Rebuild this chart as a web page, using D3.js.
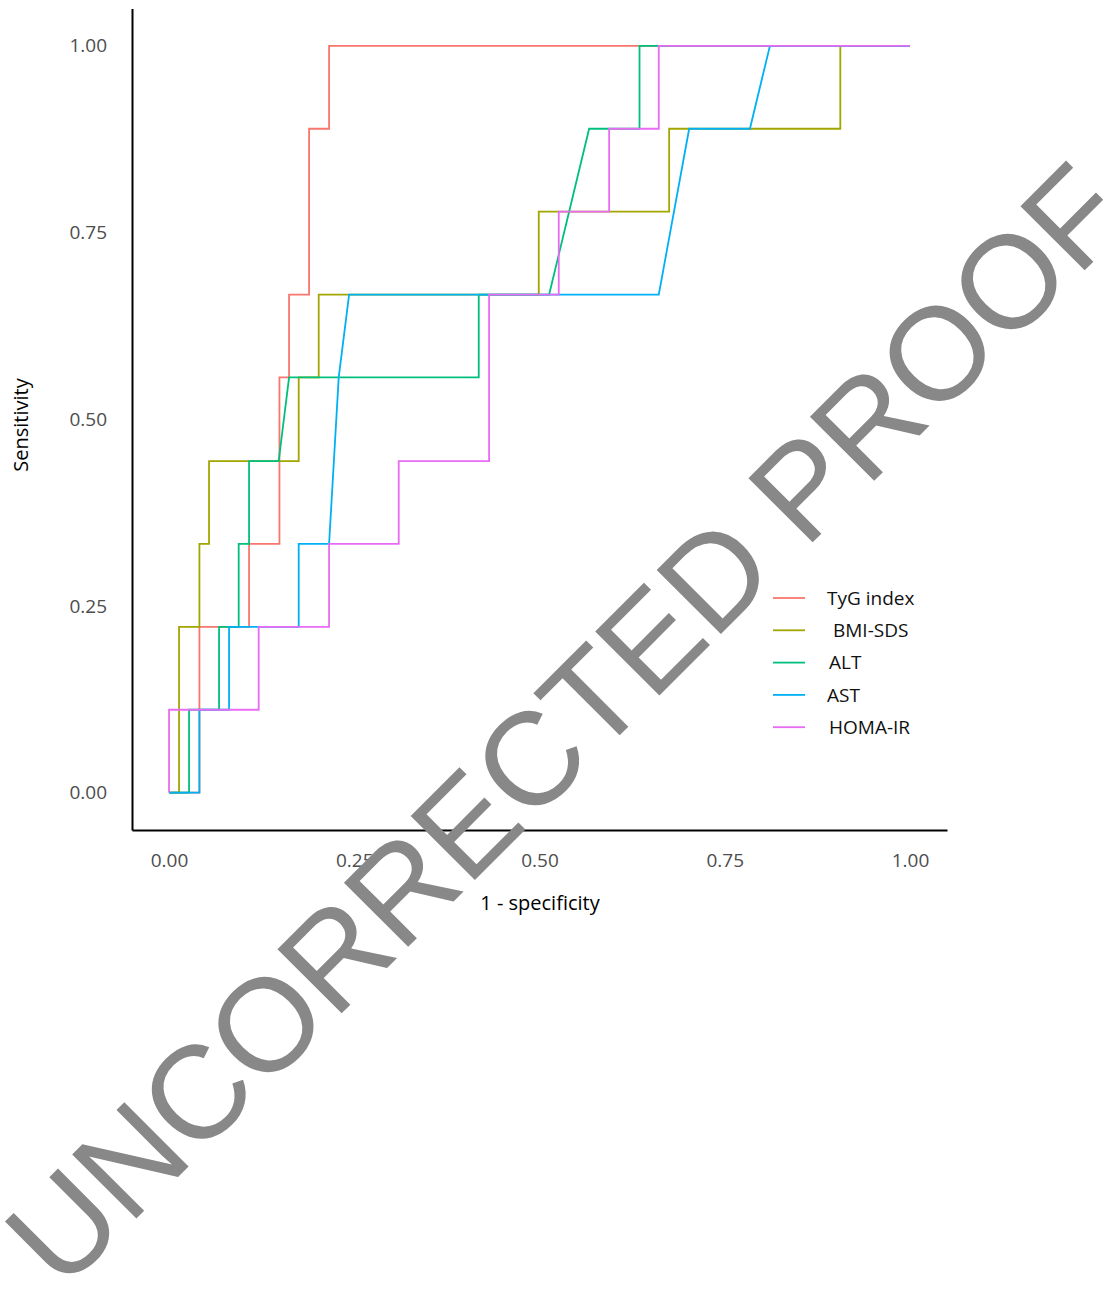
<!DOCTYPE html>
<html>
<head>
<meta charset="utf-8">
<script src="https://cdn.jsdelivr.net/npm/d3@7"></script>
<style>
  html, body { margin: 0; padding: 0; background: #fff; }
  svg { display: block; font-family: 'Open Sans', 'Liberation Sans', sans-serif; }
</style>
</head>
<body>
<svg id="chart" width="1107" height="1290"></svg>
<script>
// ROC curve data: 1 - specificity (fpr) and sensitivity (tpr)
const seriesNames = ['TyG index', 'BMI-SDS', 'ALT', 'AST', 'HOMA-IR'];
const seriesColors = ['#F8766D', '#A3A500', '#00BF7D', '#00B0F6', '#E76BF3'];

const tygFpr = [0, 0.041, 0.041, 0.108, 0.108, 0.149, 0.149, 0.162, 0.162, 0.189, 0.189, 0.216, 0.216, 1];
const tygTpr = [0, 0, 0.222, 0.222, 0.333, 0.333, 0.556, 0.556, 0.667, 0.667, 0.889, 0.889, 1, 1];

const bmiFpr = [0, 0.0135, 0.0135, 0.041, 0.041, 0.054, 0.054, 0.175, 0.175, 0.202, 0.202, 0.499, 0.499, 0.675, 0.675, 0.906, 0.906, 1];
const bmiTpr = [0, 0, 0.222, 0.222, 0.333, 0.333, 0.444, 0.444, 0.556, 0.556, 0.667, 0.667, 0.778, 0.778, 0.889, 0.889, 1, 1];

const altFpr = [0, 0.027, 0.027, 0.0675, 0.0675, 0.094, 0.094, 0.108, 0.108, 0.148, 0.162, 0.418, 0.418, 0.513, 0.567, 0.635, 0.635, 1];
const altTpr = [0, 0, 0.111, 0.111, 0.222, 0.222, 0.333, 0.333, 0.444, 0.444, 0.556, 0.556, 0.667, 0.667, 0.889, 0.889, 1, 1];

const astFpr = [0, 0.041, 0.041, 0.081, 0.081, 0.175, 0.175, 0.216, 0.229, 0.243, 0.661, 0.702, 0.784, 0.811, 1];
const astTpr = [0, 0, 0.111, 0.111, 0.222, 0.222, 0.333, 0.333, 0.556, 0.667, 0.667, 0.889, 0.889, 1, 1];

const homaFpr = [0, 0, 0.121, 0.121, 0.216, 0.216, 0.310, 0.310, 0.432, 0.432, 0.526, 0.526, 0.594, 0.594, 0.661, 0.661, 1];
const homaTpr = [0, 0.111, 0.111, 0.222, 0.222, 0.333, 0.333, 0.444, 0.444, 0.667, 0.667, 0.778, 0.778, 0.889, 0.889, 1, 1];

const tickValues = [0, 0.25, 0.5, 0.75, 1];
const watermarkText = 'UNCORRECTED PROOF';

const curves = [
  { fpr: tygFpr, tpr: tygTpr },
  { fpr: bmiFpr, tpr: bmiTpr },
  { fpr: altFpr, tpr: altTpr },
  { fpr: astFpr, tpr: astTpr },
  { fpr: homaFpr, tpr: homaTpr },
].map((c, i) => ({
  name: seriesNames[i],
  color: seriesColors[i],
  points: c.fpr.map((f, j) => [f, c.tpr[j]]),
}));

const svg = d3.select('#chart');

// Panel spans the data range with a 5% expansion on each side
const x = d3.scaleLinear().domain([-0.05, 1.05]).range([132, 947]);
const y = d3.scaleLinear().domain([-0.05, 1.05]).range([830, 8.5]);

// Axes
const xAxis = svg
  .append('g')
  .attr('transform', `translate(0,${y(-0.05)})`)
  .call(d3.axisBottom(x).tickValues(tickValues).tickFormat(d3.format('.2f')).tickSize(0).tickPadding(24));

const yAxis = svg
  .append('g')
  .attr('transform', `translate(${x(-0.05)},0)`)
  .call(d3.axisLeft(y).tickValues(tickValues).tickFormat(d3.format('.2f')).tickSize(0).tickPadding(25));

[xAxis, yAxis].forEach((a) => {
  a.select('.domain').attr('stroke', '#000').attr('stroke-width', 2);
  a.selectAll('text')
    .attr('fill', '#4D4D4D')
    .style('font-size', '19px')
    .style('font-family', "'Open Sans', sans-serif");
});

// Axis titles
svg
  .append('text')
  .attr('x', 540)
  .attr('y', 910)
  .attr('text-anchor', 'middle')
  .attr('fill', '#000')
  .style('font-size', '20px')
  .text('1 - specificity');

svg
  .append('text')
  .attr('transform', 'translate(28,425) rotate(-90)')
  .attr('text-anchor', 'middle')
  .attr('fill', '#000')
  .style('font-size', '20px')
  .text('Sensitivity');

// ROC curves
const line = d3
  .line()
  .x((d) => x(d[0]))
  .y((d) => y(d[1]));

svg
  .append('g')
  .attr('class', 'curves')
  .selectAll('path')
  .data(curves)
  .enter()
  .append('path')
  .attr('d', (d) => line(d.points))
  .attr('fill', 'none')
  .attr('stroke', (d) => d.color)
  .attr('stroke-width', 1.8)
  .attr('stroke-linejoin', 'miter');

// Legend
const legend = svg
  .append('g')
  .attr('class', 'legend')
  .selectAll('g')
  .data(curves)
  .enter()
  .append('g')
  .attr('transform', (d, i) => `translate(773,${598 + i * 32.3})`);

legend
  .append('line')
  .attr('x1', 0)
  .attr('x2', 32)
  .attr('stroke', (d) => d.color)
  .attr('stroke-width', 1.8);

legend
  .append('text')
  .attr('x', (d, i) => (i === 1 ? 60 : i === 4 ? 56 : i === 2 ? 56 : 54))
  .attr('dy', '0.35em')
  .attr('fill', '#111')
  .style('font-size', '19px')
  .text((d) => d.name);

// Watermark on top
svg
  .append('text')
  .attr('transform', 'translate(598,757) rotate(-45)')
  .attr('text-anchor', 'middle')
  .attr('fill', '#888888')
  .style('font-family', "'Liberation Sans', Arial, sans-serif")
  .style('font-size', '132px')
  .attr('textLength', 1516)
  .attr('lengthAdjust', 'spacing')
  .text(watermarkText);
</script>
</body>
</html>
